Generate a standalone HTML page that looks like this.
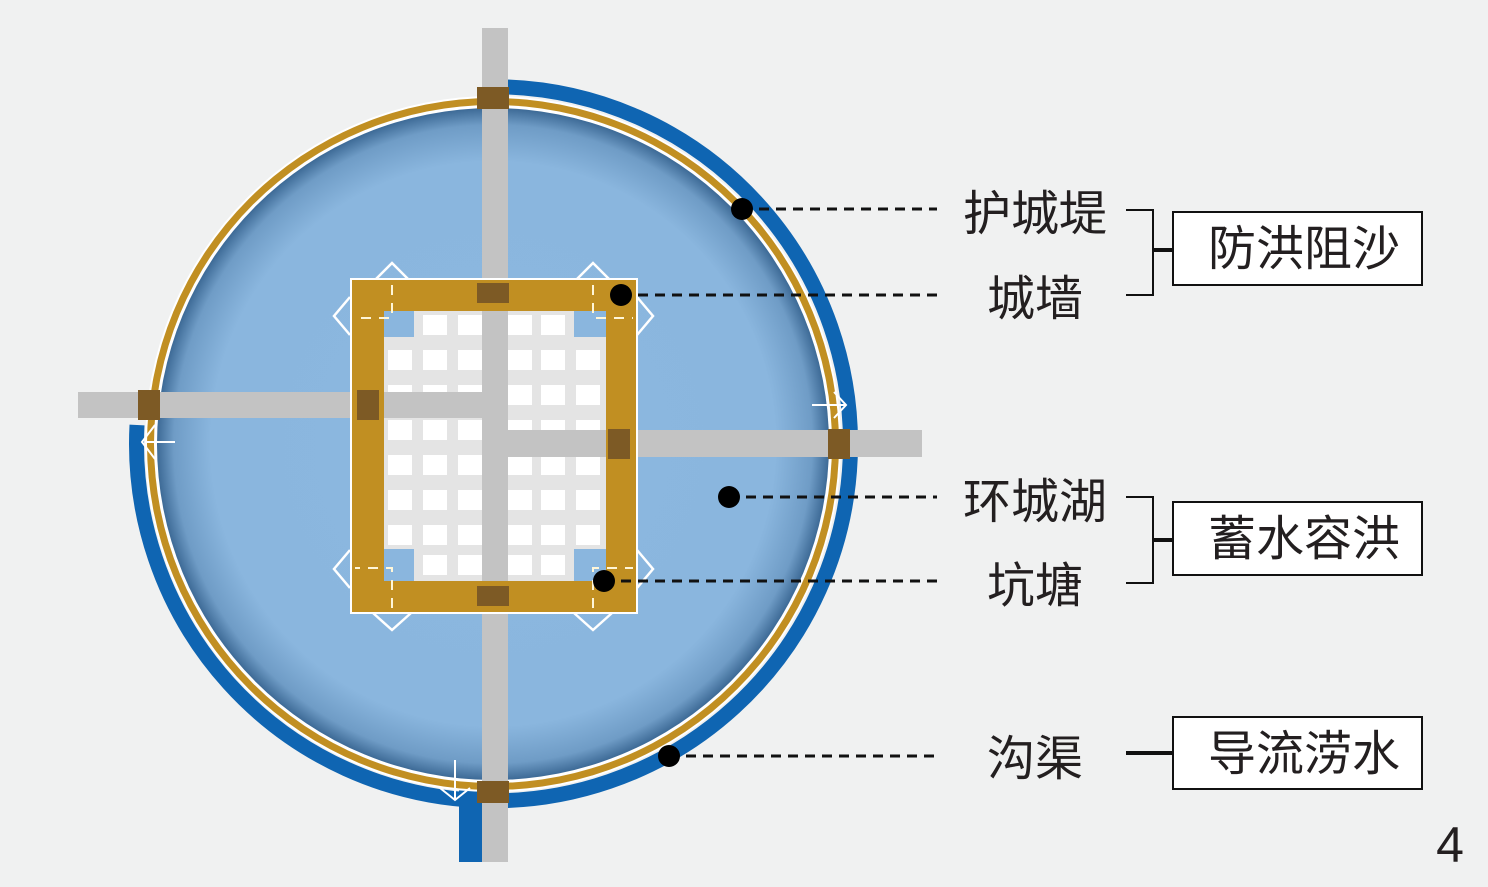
<!DOCTYPE html>
<html><head><meta charset="utf-8"><style>
html,body{margin:0;padding:0;background:#f0f1f1;}
svg{display:block;}
text{font-family:"Liberation Sans","Noto Sans CJK SC",sans-serif;fill:#231f20;}
</style></head><body>
<svg width="1488" height="887" viewBox="0 0 1488 887" xmlns="http://www.w3.org/2000/svg">
<defs>
<radialGradient id="lake" cx="493" cy="444" r="336" gradientUnits="userSpaceOnUse">
<stop offset="0" stop-color="#8cb8e0"/>
<stop offset="0.84" stop-color="#8ab6de"/>
<stop offset="0.95" stop-color="#6f9cc6"/>
<stop offset="1" stop-color="#3d6a96"/>
</radialGradient>
</defs>
<rect width="1488" height="887" fill="#f0f1f1"/>
<path d="M507 87 A357 357 0 1 1 137 425" fill="none" stroke="#0f65b2" stroke-width="15"/>
<rect x="459" y="790" width="24" height="72" fill="#0f65b2"/>
<circle cx="493" cy="444" r="348" fill="#fff"/>
<circle cx="493" cy="444" r="346" fill="#c18f22"/>
<circle cx="493" cy="444" r="339" fill="#fff"/>
<circle cx="493" cy="444" r="336" fill="url(#lake)"/>
<g stroke="#fff" stroke-width="2" fill="none">
<path d="M155 425 L142 442 L155 459 M145 442 L175 442"/>
<path d="M834 392 L846 405 L834 418 M812 405 L846 405"/>
<path d="M440 788 L455 800 L470 788 M455 760 L455 800"/>
</g>
<rect x="482" y="28" width="26" height="834" fill="#c3c3c3"/>
<rect x="78" y="392" width="415" height="26" fill="#c3c3c3"/>
<rect x="493" y="430" width="429" height="27" fill="#c3c3c3"/>
<g stroke="#fff" stroke-width="2.5" fill="none">
<path d="M373 282 L392 263 L411 282"/><path d="M574 282 L593 263 L612 282"/>
<path d="M350 297 L334 316 L350 335"/><path d="M637 297 L653 316 L637 335"/>
<path d="M350 550 L334 569 L350 588"/><path d="M637 550 L653 569 L637 588"/>
<path d="M373 613 L392 630 L411 613"/><path d="M574 613 L593 630 L612 613"/>
</g>
<rect x="350" y="278" width="288" height="336" fill="#fff"/>
<rect x="352" y="280" width="284" height="332" fill="#c18f22"/>
<rect x="384" y="311" width="222" height="270" fill="#e4e4e4"/>
<g fill="#fff">
<g id="row">
<rect x="388" y="315" width="24" height="20"/><rect x="423" y="315" width="24" height="20"/><rect x="458" y="315" width="24" height="20"/><rect x="508" y="315" width="24" height="20"/><rect x="541" y="315" width="24" height="20"/><rect x="576" y="315" width="24" height="20"/>
</g>
<use href="#row" y="35"/><use href="#row" y="70"/><use href="#row" y="105"/><use href="#row" y="140"/><use href="#row" y="175"/><use href="#row" y="210"/><use href="#row" y="240"/>
</g>
<rect x="384" y="311" width="30" height="26" fill="#8ab6de"/>
<rect x="574" y="311" width="32" height="26" fill="#8ab6de"/>
<rect x="384" y="549" width="30" height="32" fill="#8ab6de"/>
<rect x="574" y="549" width="32" height="32" fill="#8ab6de"/>
<rect x="482" y="311" width="26" height="270" fill="#c3c3c3"/>
<rect x="384" y="392" width="110" height="26" fill="#c3c3c3"/>
<rect x="494" y="430" width="112" height="27" fill="#c3c3c3"/>
<g stroke="#fff6d8" stroke-width="2" stroke-dasharray="10 8" fill="none">
<path d="M392 285 V318 H355"/><path d="M593 285 V318 H633"/>
<path d="M392 608 V568 H355"/><path d="M593 608 V568 H633"/>
</g>
<g fill="#7d5a25">
<rect x="477" y="87" width="32" height="22"/>
<rect x="477" y="283" width="32" height="20"/>
<rect x="477" y="586" width="32" height="20"/>
<rect x="477" y="781" width="32" height="22"/>
<rect x="138" y="390" width="22" height="30"/>
<rect x="357" y="390" width="22" height="30"/>
<rect x="608" y="429" width="22" height="30"/>
<rect x="828" y="429" width="22" height="30"/>
</g>
<g stroke="#111" stroke-width="3" stroke-dasharray="10 7" fill="none">
<path d="M742 209 H937"/><path d="M621 295 H937"/><path d="M729 497 H937"/><path d="M604 581 H937"/><path d="M669 756 H937"/>
</g>
<g fill="#000">
<circle cx="742" cy="209" r="11"/><circle cx="621" cy="295" r="11"/><circle cx="729" cy="497" r="11"/><circle cx="604" cy="581" r="11"/><circle cx="669" cy="756" r="11"/>
</g>
<g font-size="48" text-anchor="middle">
<text x="1035" y="230">护城堤</text>
<text x="1035" y="315">城墙</text>
<text x="1035" y="518">环城湖</text>
<text x="1035" y="602">坑塘</text>
<text x="1035" y="775">沟渠</text>
</g>
<g stroke="#111" stroke-width="2" fill="none">
<path d="M1126 210 H1153 V295 H1126"/>
<path d="M1126 497 H1153 V583 H1126"/>
</g>
<g stroke="#111" stroke-width="4">
<path d="M1153 250 H1173"/><path d="M1153 540 H1173"/><path d="M1126 753 H1173"/>
</g>
<g fill="#fff" stroke="#111" stroke-width="2">
<rect x="1173" y="212" width="249" height="73"/>
<rect x="1173" y="502" width="249" height="73"/>
<rect x="1173" y="717" width="249" height="72"/>
</g>
<g font-size="48" text-anchor="middle">
<text x="1304" y="265">防洪阻沙</text>
<text x="1304" y="555">蓄水容洪</text>
<text x="1304" y="770">导流涝水</text>
</g>
<text x="1450" y="862" font-size="50" text-anchor="middle">4</text>
</svg>
</body></html>
